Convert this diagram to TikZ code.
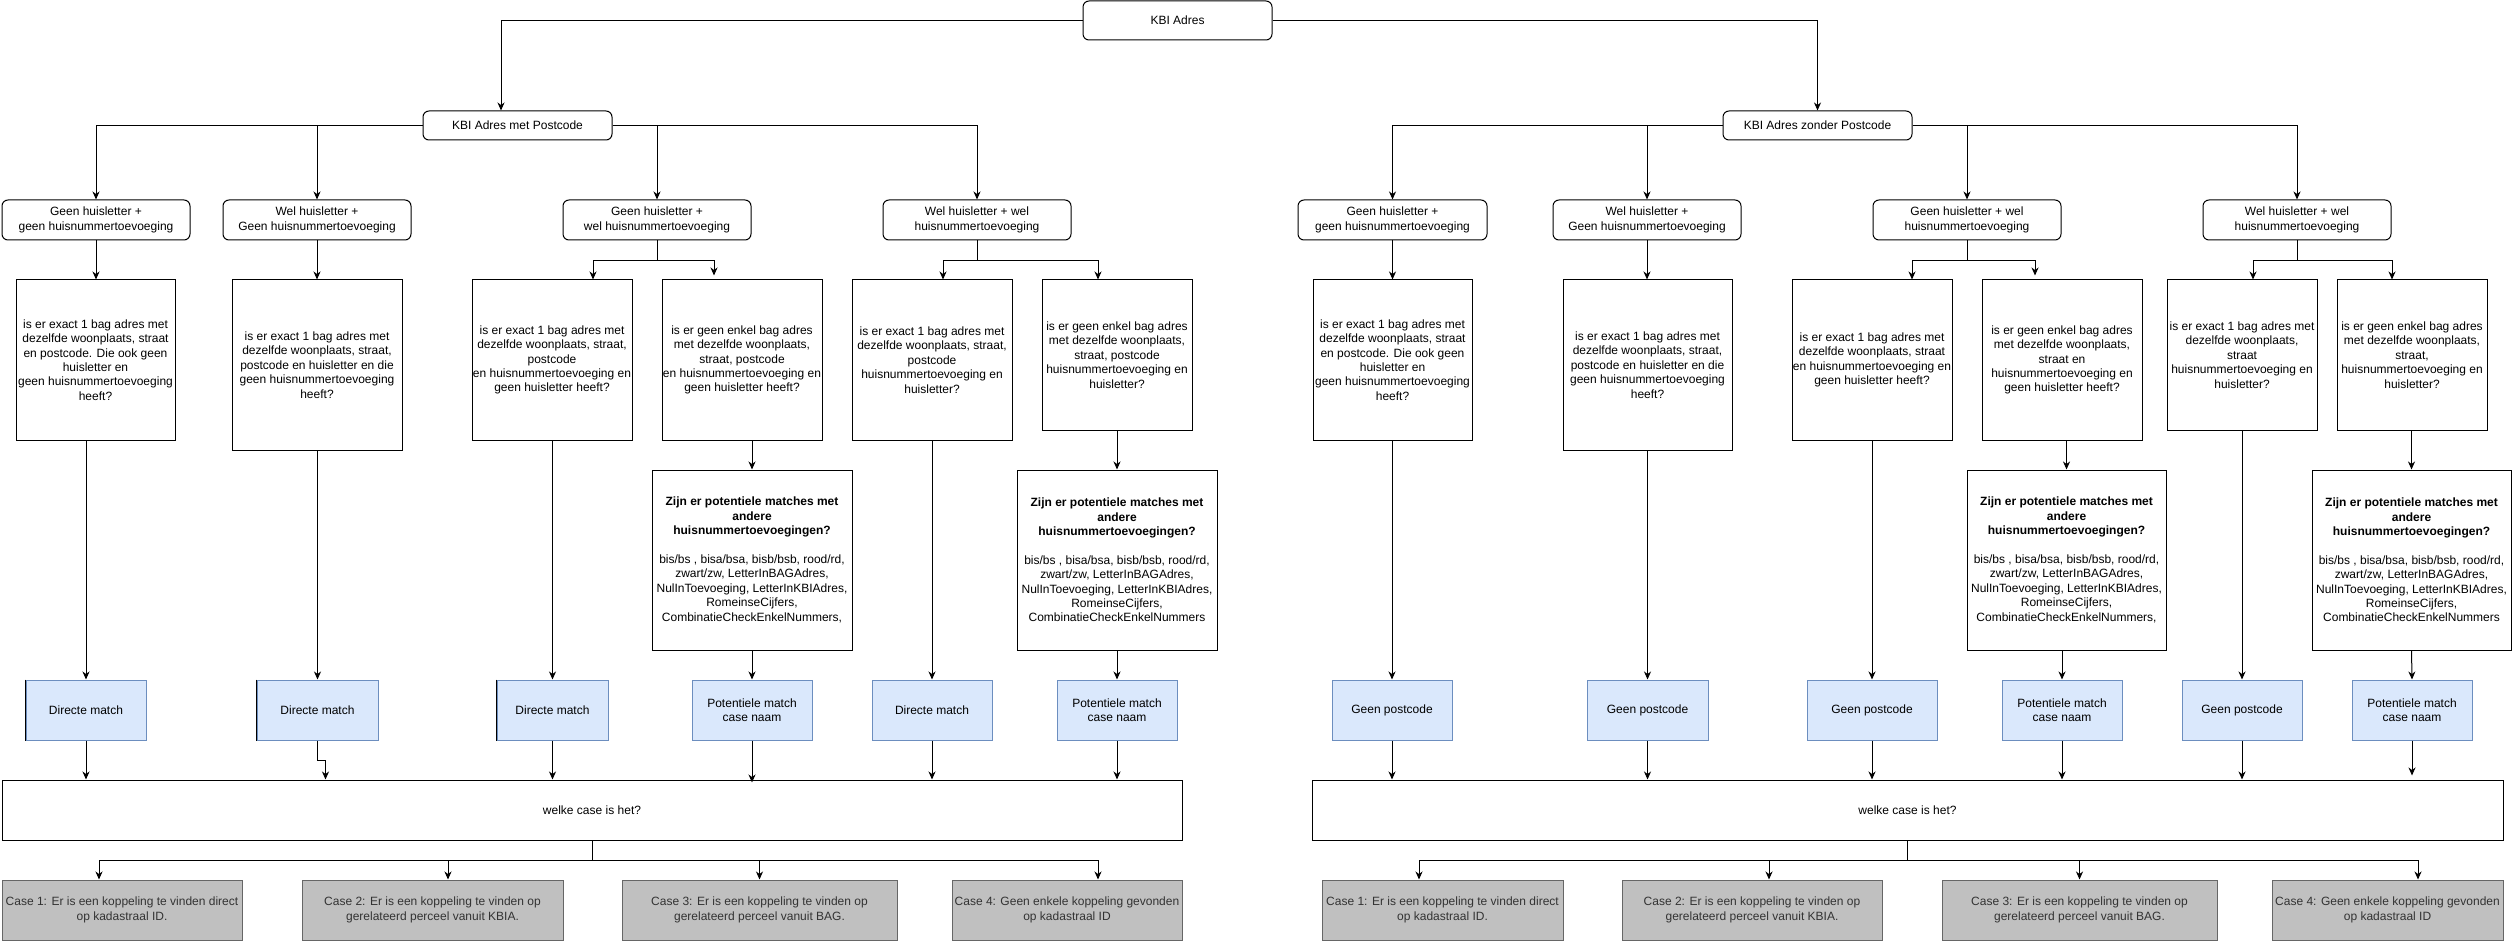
\documentclass[tikz,border=0pt]{standalone}
\usepackage{fontspec}
\setmainfont{Liberation Sans}
\usetikzlibrary{arrows.meta,calc}
\definecolor{bluefill}{HTML}{DAE8FC}
\definecolor{bluedraw}{HTML}{6C8EBF}
\definecolor{grayfill}{HTML}{C0C0C0}
\definecolor{graydraw}{HTML}{666666}
\definecolor{graytext}{HTML}{333333}

\tikzset{
  base/.style={draw, line width=1pt, inner sep=0pt, align=center,
    font=\fontsize{12}{14.4}\selectfont},
  rbox/.style={base, rounded corners=6pt},
  qbox/.style={base},
  mbox/.style={base, fill=bluefill, draw=bluedraw},
  cbox/.style={base, fill=grayfill, draw=graydraw, text=graytext,
    font=\fontsize{12}{15}\selectfont},
  arr/.style={line width=1pt, -{Stealth[length=8pt,width=7pt,inset=2.5pt]}},
  ln/.style={line width=1pt},
  edgemark/.style={line width=1.6pt, black},
}

% box from its corners (x1,y1)-(x2,y2), y growing downwards
\newcommand\mkbox[7]{\node[#2, minimum width={#5-#3}, minimum height={#6-#4}]
  (#1) at ({(#3+#5)/2},{(#4+#6)/2}) {#7};}

\newcommand\zijntext[1]{\textbf{Zijn er potentiele matches met}\\\textbf{andere}\\
  \textbf{huisnummertoevoegingen?}\\[14.4pt]
  bis/bs , bisa/bsa, bisb/bsb, rood/rd,\\zwart/zw, LetterInBAGAdres,\\
  NulInToevoeging, LetterInKBIAdres,\\RomeinseCijfers,\\CombinatieCheckEnkelNummers#1}

\begin{document}
\begin{tikzpicture}[x=1pt, y=-1pt]
\useasboundingbox (0,0) rectangle (2513,941);

% ---------- root and the two address kinds ----------
\mkbox{kbi}{rbox}{1083}{1}{1272}{40}{KBI Adres}
\mkbox{met}{rbox}{423}{111}{612}{140}{KBI Adres met Postcode}
\mkbox{zon}{rbox}{1723}{111}{1912}{140}{KBI Adres zonder Postcode}

% ---------- combinations ----------
\mkbox{la}{rbox}{2}{200}{190}{240}{Geen huisletter +\\geen huisnummertoevoeging}
\mkbox{lb}{rbox}{223}{200}{411}{240}{Wel huisletter +\\Geen huisnummertoevoeging}
\mkbox{lc}{rbox}{563}{200}{751}{240}{Geen huisletter +\\wel huisnummertoevoeging}
\mkbox{ld}{rbox}{883}{200}{1071}{240}{Wel huisletter + wel\\huisnummertoevoeging}
\mkbox{ra}{rbox}{1298}{200}{1487}{240}{Geen huisletter +\\geen huisnummertoevoeging}
\mkbox{rb}{rbox}{1553}{200}{1741}{240}{Wel huisletter +\\Geen huisnummertoevoeging}
\mkbox{rc}{rbox}{1873}{200}{2061}{240}{Geen huisletter + wel\\huisnummertoevoeging}
\mkbox{rd}{rbox}{2203}{200}{2391}{240}{Wel huisletter + wel\\huisnummertoevoeging}

% ---------- questions, with postcode ----------
\mkbox{qa}{qbox}{16}{280}{175}{440}{is er exact 1 bag adres met\\dezelfde woonplaats, straat\\en postcode. Die ook geen\\huisletter en\\geen huisnummertoevoeging\\heeft?}
\mkbox{qb}{qbox}{232}{280}{402}{450}{is er exact 1 bag adres met\\dezelfde woonplaats, straat,\\postcode en huisletter en die\\geen huisnummertoevoeging\\heeft?}
\mkbox{qc}{qbox}{472}{280}{632}{440}{is er exact 1 bag adres met\\dezelfde woonplaats, straat,\\postcode\\en huisnummertoevoeging en\\geen huisletter heeft?}
\mkbox{qd}{qbox}{662}{280}{822}{440}{is er geen enkel bag adres\\met dezelfde woonplaats,\\straat, postcode\\en huisnummertoevoeging en\\geen huisletter heeft?}
\mkbox{qe}{qbox}{852}{280}{1012}{440}{is er exact 1 bag adres met\\dezelfde woonplaats, straat,\\postcode\\huisnummertoevoeging en\\huisletter?}
\mkbox{qf}{qbox}{1042}{280}{1192}{430}{is er geen enkel bag adres\\met dezelfde woonplaats,\\straat, postcode\\huisnummertoevoeging en\\huisletter?}
\mkbox{pa}{qbox}{652}{470}{852}{650}{\zijntext{,}}
\mkbox{pb}{qbox}{1017}{470}{1217}{650}{\zijntext{}}

% ---------- questions, without postcode ----------
\mkbox{sa}{qbox}{1313}{280}{1472}{440}{is er exact 1 bag adres met\\dezelfde woonplaats, straat\\en postcode. Die ook geen\\huisletter en\\geen huisnummertoevoeging\\heeft?}
\mkbox{sb}{qbox}{1563}{280}{1732}{450}{is er exact 1 bag adres met\\dezelfde woonplaats, straat,\\postcode en huisletter en die\\geen huisnummertoevoeging\\heeft?}
\mkbox{sc}{qbox}{1792}{280}{1952}{440}{is er exact 1 bag adres met\\dezelfde woonplaats, straat\\en huisnummertoevoeging en\\geen huisletter heeft?}
\mkbox{sd}{qbox}{1982}{280}{2142}{440}{is er geen enkel bag adres\\met dezelfde woonplaats,\\straat en\\huisnummertoevoeging en\\geen huisletter heeft?}
\mkbox{se}{qbox}{2167}{280}{2317}{430}{is er exact 1 bag adres met\\dezelfde woonplaats,\\straat\\huisnummertoevoeging en\\huisletter?}
\mkbox{sf}{qbox}{2337}{280}{2487}{430}{is er geen enkel bag adres\\met dezelfde woonplaats,\\straat,\\huisnummertoevoeging en\\huisletter?}
\mkbox{ta}{qbox}{1967}{470}{2166}{650}{\zijntext{,}}
\mkbox{tb}{qbox}{2312}{470}{2511}{650}{\zijntext{}}

% ---------- outcomes ----------
\mkbox{ma}{mbox}{26}{680}{146}{740}{Directe match}
\mkbox{mb}{mbox}{257}{680}{378}{740}{Directe match}
\mkbox{mc}{mbox}{497}{680}{608}{740}{Directe match}
\mkbox{md}{mbox}{692}{680}{812}{740}{Potentiele match\\case naam}
\mkbox{me}{mbox}{872}{680}{992}{740}{Directe match}
\mkbox{mf}{mbox}{1057}{680}{1177}{740}{Potentiele match\\case naam}
\draw[edgemark] (ma.north west) -- (ma.south west);
\draw[edgemark] (mb.north west) -- (mb.south west);
\draw[edgemark] (mc.north west) -- (mc.south west);

\mkbox{na}{mbox}{1332}{680}{1452}{740}{Geen postcode}
\mkbox{nb}{mbox}{1587}{680}{1708}{740}{Geen postcode}
\mkbox{nc}{mbox}{1807}{680}{1937}{740}{Geen postcode}
\mkbox{nd}{mbox}{2002}{680}{2122}{740}{Potentiele match\\case naam}
\mkbox{ne}{mbox}{2182}{680}{2302}{740}{Geen postcode}
\mkbox{nf}{mbox}{2352}{680}{2472}{740}{Potentiele match\\case naam}

% ---------- case selection ----------
\mkbox{wa}{qbox}{2}{780}{1182}{840}{welke case is het?}
\mkbox{wb}{qbox}{1312}{780}{2503}{840}{welke case is het?}

\mkbox{ga}{cbox}{2}{880}{242}{940}{Case 1: Er is een koppeling te vinden direct\\op kadastraal ID.}
\mkbox{gb}{cbox}{302}{880}{563}{940}{Case 2: Er is een koppeling te vinden op\\gerelateerd perceel vanuit KBIA.}
\mkbox{gc}{cbox}{622}{880}{897}{940}{Case 3: Er is een koppeling te vinden op\\gerelateerd perceel vanuit BAG.}
\mkbox{gd}{cbox}{952}{880}{1182}{940}{Case 4: Geen enkele koppeling gevonden\\op kadastraal ID}
\mkbox{ha}{cbox}{1322}{880}{1563}{940}{Case 1: Er is een koppeling te vinden direct\\op kadastraal ID.}
\mkbox{hb}{cbox}{1622}{880}{1882}{940}{Case 2: Er is een koppeling te vinden op\\gerelateerd perceel vanuit KBIA.}
\mkbox{hc}{cbox}{1942}{880}{2217}{940}{Case 3: Er is een koppeling te vinden op\\gerelateerd perceel vanuit BAG.}
\mkbox{hd}{cbox}{2272}{880}{2503}{940}{Case 4: Geen enkele koppeling gevonden\\op kadastraal ID}

% ---------- connectors ----------
\draw[arr] (kbi.west) -| ([xshift=-16.5pt]met.north);
\draw[arr] (kbi.east) -| (zon.north);

\draw[arr] (met.west) -| (la.north);
\draw[arr] (met.west) -| (lb.north);
\draw[arr] (met.east) -| (lc.north);
\draw[arr] (met.east) -| (ld.north);
\draw[arr] (zon.west) -| (ra.north);
\draw[arr] (zon.west) -| (rb.north);
\draw[arr] (zon.east) -| (rc.north);
\draw[arr] (zon.east) -| (rd.north);

\draw[arr] (la.south) -- (la.south |- qa.north);
\draw[arr] (lb.south) -- (lb.south |- qb.north);
\draw[arr] (lc.south) -- ++(0,20) -| ([xshift=41pt]qc.north);
\draw[arr] (lc.south) -- ++(0,20) -| ([xshift=-28pt,yshift=4pt]qd.north);
\draw[arr] (ld.south) -- ++(0,20) -| ([xshift=11pt]qe.north);
\draw[arr] (ld.south) -- ++(0,20) -| ([xshift=-19pt]qf.north);
\draw[arr] (ra.south) -- (ra.south |- sa.north);
\draw[arr] (rb.south) -- (rb.south |- sb.north);
\draw[arr] (rc.south) -- ++(0,20) -| ([xshift=40pt]sc.north);
\draw[arr] (rc.south) -- ++(0,20) -| ([xshift=-27pt,yshift=4pt]sd.north);
\draw[arr] (rd.south) -- ++(0,20) -| ([xshift=11pt]se.north);
\draw[arr] (rd.south) -- ++(0,20) -| ([xshift=-20pt]sf.north);

\draw[arr] (pa.north |- qd.south) -- (pa.north);
\draw[arr] (pb.north |- qf.south) -- (pb.north);
\draw[arr] (ta.north |- sd.south) -- (ta.north);
\draw[arr] (tb.north |- sf.south) -- (tb.north);

\draw[arr] (ma.north |- qa.south) -- (ma.north);
\draw[arr] (mb.north |- qb.south) -- (mb.north);
\draw[arr] (mc.north |- qc.south) -- (mc.north);
\draw[arr] (pa.south) -- (md.north);
\draw[arr] (me.north |- qe.south) -- (me.north);
\draw[arr] (pb.south) -- (mf.north);
\draw[arr] (na.north |- sa.south) -- (na.north);
\draw[arr] (nb.north |- sb.south) -- (nb.north);
\draw[arr] (nc.north |- sc.south) -- (nc.north);
\draw[arr] (nd.north |- ta.south) -- (nd.north);
\draw[arr] (ne.north |- se.south) -- (ne.north);
\draw[arr] (tb.south) -- (nf.north);

\draw[arr] (ma.south) -- (ma.south |- wa.north);
\draw[arr] (mb.south) -- ++(0,20) -| ($(mb.south |- wa.north)+(8,0)$);
\draw[arr] (mc.south) -- (mc.south |- wa.north);
\draw[arr] (md.south) -- ([yshift=-3pt]md.south |- wa.north);
\draw[arr] (me.south) -- (me.south |- wa.north);
\draw[arr] (mf.south) -- (mf.south |- wa.north);
\draw[arr] (na.south) -- (na.south |- wb.north);
\draw[arr] (nb.south) -- (nb.south |- wb.north);
\draw[arr] (nc.south) -- (nc.south |- wb.north);
\draw[arr] (nd.south) -- (nd.south |- wb.north);
\draw[arr] (ne.south) -- (ne.south |- wb.north);
\draw[arr] (nf.south) -- ([yshift=4pt]nf.south |- wb.north);

\draw[arr] (wa.south) -- ++(0,20) -| ([xshift=-23pt]ga.north);
\draw[arr] (wa.south) -- ++(0,20) -| ([xshift=15.5pt]gb.north);
\draw[arr] (wa.south) -- ++(0,20) -| (gc.north);
\draw[arr] (wa.south) -- ++(0,20) -| ([xshift=31pt]gd.north);
\draw[arr] (wb.south) -- ++(0,20) -| ([xshift=-23.5pt]ha.north);
\draw[arr] (wb.south) -- ++(0,20) -| ([xshift=17pt]hb.north);
\draw[arr] (wb.south) -- ++(0,20) -| (hc.north);
\draw[arr] (wb.south) -- ++(0,20) -| ([xshift=30.5pt]hd.north);
\end{tikzpicture}
\end{document}
